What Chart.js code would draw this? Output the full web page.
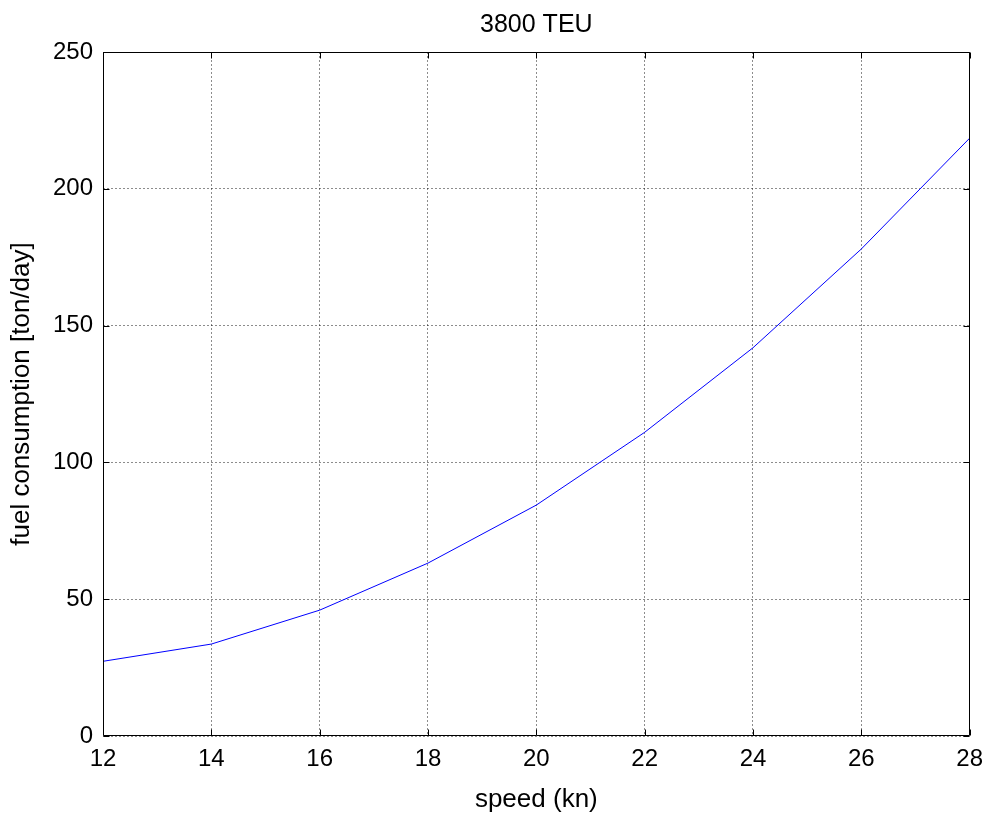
<!DOCTYPE html>
<html>
<head>
<meta charset="utf-8">
<script src="https://cdn.jsdelivr.net/npm/chart.js@4/dist/chart.umd.min.js"></script>
<style>
html,body{margin:0;padding:0;background:#fff;}
#wrap{width:992px;height:815px;}
</style>
</head>
<body>
<div id="wrap"><canvas id="c" width="992" height="815"></canvas></div>
<script>
const speeds = [12, 14, 16, 18, 20, 22, 24, 26, 28];
const fuel = [27.3, 33.6, 46.0, 63.2, 84.4, 111.0, 141.9, 178.0, 218.5];
const chartTitle = '3800 TEU';
const xTitle = 'speed (kn)';
const yTitle = 'fuel consumption [ton/day]';
const xRange = [12, 28, 2];
const yRange = [0, 250, 50];

const FONT = 'Liberation Sans, Arial, sans-serif';

// Box, inward ticks on all sides, and a title centred over the plot area (MATLAB style)
const boxPlugin = {
  id: 'box',
  afterDraw(chart) {
    const {ctx, chartArea: a, scales} = chart;
    ctx.save();
    ctx.strokeStyle = '#000';
    ctx.lineWidth = 1;
    ctx.beginPath();
    const L = Math.round(a.left) + 0.5, R = Math.round(a.right) - 0.5;
    const T = Math.round(a.top) + 0.5, B = Math.round(a.bottom) - 0.5;
    ctx.rect(L, T, R - L, B - T);
    const tl = 6;
    scales.x.ticks.forEach(t => {
      const px = Math.round(scales.x.getPixelForValue(t.value)) + 0.5;
      ctx.moveTo(px, B); ctx.lineTo(px, B - tl);
      ctx.moveTo(px, T); ctx.lineTo(px, T + tl);
    });
    scales.y.ticks.forEach(t => {
      const py = Math.round(scales.y.getPixelForValue(t.value)) + 0.5;
      ctx.moveTo(L, py); ctx.lineTo(L + tl, py);
      ctx.moveTo(R, py); ctx.lineTo(R - tl, py);
    });
    ctx.stroke();
    ctx.fillStyle = '#000';
    ctx.font = '25px ' + FONT;
    ctx.textAlign = 'center';
    ctx.textBaseline = 'alphabetic';
    ctx.fillText(chartTitle, (a.left + a.right) / 2, a.top - 20);
    ctx.restore();
  }
};

new Chart(document.getElementById('c'), {
  type: 'line',
  data: {
    datasets: [{
      data: speeds.map((s, i) => ({x: s, y: fuel[i]})),
      borderColor: '#0000ff',
      borderWidth: 1,
      pointRadius: 0,
      tension: 0,
      fill: false
    }]
  },
  options: {
    responsive: false,
    animation: false,
    layout: {padding: {left: 0, right: 21, top: 52, bottom: 0}},
    plugins: {
      legend: {display: false},
      tooltip: {enabled: false},
      title: {display: false}
    },
    scales: {
      x: {
        type: 'linear',
        min: xRange[0], max: xRange[1],
        ticks: {stepSize: xRange[2], color: '#000', font: {family: FONT, size: 24}, padding: 9, maxRotation: 0},
        grid: {color: 'rgba(0,0,0,0.45)', lineWidth: 1, drawTicks: false, tickLength: 0},
        border: {display: false, dash: [2, 2]},
        title: {display: true, text: xTitle, color: '#000', font: {family: FONT, size: 26}, padding: {top: 1, bottom: 0}},
        afterFit(s) { s.height = 79; }
      },
      y: {
        min: yRange[0], max: yRange[1],
        ticks: {stepSize: yRange[2], color: '#000', font: {family: FONT, size: 24}, padding: 10},
        grid: {color: 'rgba(0,0,0,0.45)', lineWidth: 1, drawTicks: false, tickLength: 0},
        border: {display: false, dash: [2, 2]},
        title: {display: true, text: yTitle, color: '#000', font: {family: FONT, size: 26}, padding: {top: 6.5, bottom: 8}},
        afterFit(s) { s.width = 103; }
      }
    }
  },
  plugins: [boxPlugin]
});
</script>
</body>
</html>
